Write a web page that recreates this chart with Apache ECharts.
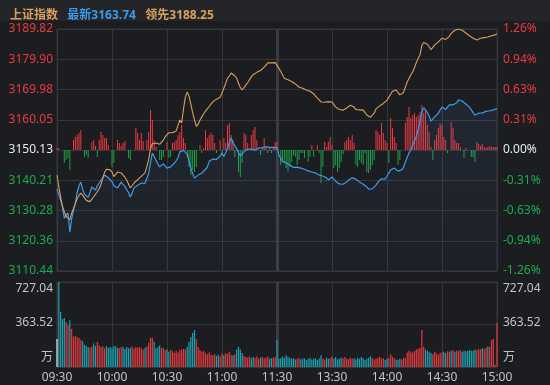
<!DOCTYPE html>
<html>
<head>
<meta charset="utf-8">
<script src="https://cdn.jsdelivr.net/npm/echarts@6/dist/echarts.min.js"></script>
<style>html,body{margin:0;padding:0;background:#1c1d21;}#c{width:550px;height:385px;}</style>
</head>
<body>
<div id="c"></div>
<script>
// ---------- data ----------
const indexName = '上证指数';
const preClose = 3150.13;
const priceRange = 39.69;
const volMax = 727.04;
const timeTicks = ['09:30','10:00','10:30','11:00','11:30','13:30','14:00','14:30','15:00'];
const priceTicks = ['3110.44','3120.36','3130.28','3140.21','3150.13','3160.05','3169.98','3179.90','3189.82'];
const pctTicks = ['-1.26%','-0.94%','-0.63%','-0.31%','0.00%','0.31%','0.63%','0.94%','1.26%'];
const volTicks = ['万','363.52','727.04'];

const price = [
3137.4,3135.5,3133.6,3131.5,3127.8,3128.6,3129.5,3123.2,3127.5,3130.4,
3132.6,3136.2,3138.4,3139.6,3137.2,3135.6,3135.0,3134.6,3136.3,3138.0,
3137.4,3137.0,3138.4,3139.0,3140.2,3141.0,3141.9,3141.6,3141.0,3140.9,
3139.8,3138.4,3137.9,3137.7,3138.6,3139.6,3139.0,3138.2,3137.7,3136.2,
3134.7,3136.0,3137.7,3138.0,3138.6,3139.0,3139.3,3139.4,3139.2,3139.6,
3142.4,3146.0,3149.1,3148.0,3146.8,3145.6,3144.6,3145.2,3145.6,3145.9,
3144.2,3143.6,3144.6,3145.2,3145.8,3146.6,3147.6,3149.5,3149.8,3150.0,
3150.1,3148.8,3146.6,3144.2,3142.4,3140.9,3141.4,3141.9,3142.2,3142.6,
3143.2,3143.8,3144.6,3146.4,3147.0,3147.2,3147.5,3147.0,3146.9,3148.2,
3149.1,3148.0,3148.6,3150.6,3152.6,3154.1,3152.4,3152.8,3150.6,3149.2,
3148.2,3147.8,3149.6,3150.2,3150.4,3150.8,3150.4,3150.0,3150.1,3150.5,
3150.8,3150.6,3150.9,3151.1,3151.2,3151.4,3151.0,3150.8,3151.0,3151.1,
3150.8,
3148.6,3147.4,3146.4,3146.0,3145.9,3145.6,3145.2,3144.8,3144.4,
3144.2,3144.5,3144.6,3144.2,3144.0,3143.8,3143.6,3143.3,3143.0,3142.9,
3142.8,3142.6,3142.4,3141.9,3141.3,3141.6,3141.9,3141.0,3140.3,3140.8,
3141.3,3140.6,3139.9,3139.4,3139.0,3138.6,3138.9,3139.2,3139.6,3140.3,
3140.9,3141.0,3140.9,3140.6,3140.0,3139.6,3139.2,3138.9,3138.6,3138.0,
3137.3,3137.0,3137.4,3137.7,3138.6,3139.6,3140.2,3140.7,3140.9,3140.6,
3140.3,3142.6,3143.6,3143.9,3144.2,3143.8,3143.2,3142.9,3143.6,3144.4,
3146.2,3147.7,3149.2,3150.2,3151.7,3153.2,3154.6,3156.8,3159.3,3162.6,
3164.0,3163.2,3162.4,3161.2,3159.6,3160.2,3161.0,3161.4,3162.2,3163.3,
3164.2,3163.6,3163.4,3164.2,3164.9,3164.8,3165.0,3164.9,3165.6,3166.6,
3167.2,3166.2,3165.6,3165.2,3164.7,3164.2,3163.3,3162.4,3161.6,3161.9,
3162.2,3162.4,3162.3,3162.6,3162.8,3162.7,3163.0,3163.2,3163.3,3163.5,
3163.74];

const lead = [
3141.9,3138.0,3134.6,3131.6,3129.8,3128.4,3127.8,3127.2,3129.4,3131.0,
3132.6,3134.2,3135.2,3136.0,3135.6,3134.5,3133.6,3133.1,3133.2,3133.7,
3134.8,3135.6,3136.2,3137.4,3138.8,3141.0,3142.9,3143.8,3144.2,3143.6,
3142.9,3141.4,3141.2,3142.9,3142.8,3142.6,3142.0,3141.2,3140.3,3139.0,
3137.7,3138.4,3139.3,3139.8,3140.4,3140.9,3141.5,3142.0,3142.6,3144.6,
3147.0,3150.6,3152.2,3152.8,3152.4,3151.8,3152.0,3152.4,3153.4,3154.4,
3155.0,3155.8,3156.0,3155.8,3156.0,3156.4,3156.7,3160.0,3159.0,3163.6,
3167.4,3169.2,3167.8,3165.2,3162.4,3160.0,3157.9,3158.6,3160.0,3161.0,
3162.0,3162.9,3163.6,3164.4,3165.2,3165.9,3166.4,3166.8,3167.0,3167.4,
3168.8,3170.4,3172.0,3173.7,3174.4,3175.4,3175.0,3174.4,3173.7,3172.0,
3170.6,3169.8,3170.6,3171.4,3172.2,3173.2,3174.1,3174.8,3175.2,3175.6,
3175.8,3176.2,3176.8,3177.3,3178.0,3178.7,3178.5,3178.7,3178.4,3178.8,
3178.7,3177.0,3175.9,3174.8,3173.7,3173.4,3173.2,3173.1,3172.6,3172.2,
3171.8,3171.4,3170.8,3170.6,3170.4,3170.0,3169.8,3169.6,3169.4,3169.2,
3168.6,3167.8,3167.2,3166.6,3165.9,3166.2,3165.8,3165.9,3166.0,3165.7,
3165.9,3165.0,3164.2,3163.8,3163.4,3163.2,3163.2,3163.6,3163.9,3164.4,
3164.8,3164.9,3164.2,3163.4,3163.2,3163.3,3163.1,3163.2,3162.4,3161.6,
3161.2,3160.9,3161.0,3162.2,3163.6,3164.2,3164.6,3164.9,3165.4,3166.0,
3166.5,3166.0,3168.4,3169.4,3169.6,3169.8,3169.4,3168.2,3168.6,3169.0,
3169.6,3172.4,3173.6,3174.8,3175.7,3177.2,3178.8,3180.2,3181.3,3184.4,
3185.4,3185.6,3184.8,3184.0,3183.0,3183.8,3184.6,3185.2,3185.6,3186.2,
3186.8,3186.8,3186.4,3186.3,3187.4,3188.4,3189.0,3189.4,3189.8,3189.8,
3189.6,3189.4,3189.0,3188.5,3188.0,3187.6,3187.2,3186.8,3186.4,3186.2,
3186.5,3186.8,3186.9,3187.0,3187.1,3187.2,3187.4,3187.6,3187.9,3187.9,
3188.25];

// buy/sell strength bars (red up, green down), arbitrary units
const strength = [
2,2,0,0,-13,-10,-8,-20,0,10,
13,15,17,20,0,-7,-5,-8,0,8,
10,4,-7,10,18,15,12,12,5,0,
-17,-13,0,10,7,4,7,9,0,-8,
-10,0,0,22,17,10,17,9,0,10,
18,40,30,10,3,0,-10,-10,-7,0,
8,-8,-7,7,8,10,15,18,25,12,
7,-7,-17,-25,-20,-22,-17,0,5,-3,
2,20,12,15,17,15,7,-3,0,10,
-5,12,7,25,27,15,10,-7,0,-22,
-27,-13,17,15,7,0,15,20,23,10,
0,-5,3,12,4,-3,2,-3,3,8,
8,0,-15,-10,-13,-18,-22,-17,-12,-5,
-7,-15,-10,-3,-3,-8,0,-12,-7,5,
-7,0,5,-3,-33,-17,8,3,8,13,
5,-18,-15,-22,-18,-12,-4,8,10,13,
10,15,7,-15,-17,-10,-13,-15,-3,-22,
-23,-20,-15,-10,20,18,15,27,17,10,
7,-13,32,22,13,7,-15,-10,0,0,
27,33,43,32,35,37,33,35,38,45,
37,40,25,18,3,-10,10,15,22,27,
25,13,10,-3,0,28,22,10,7,7,
3,0,-8,2,0,0,-7,-7,-12,8,
6,4,6,3,2,3,4,3,3,3,
3];

// volume, in 万
const volume = [
240,727,470,410,420,385,360,400,325,260,
265,255,250,230,220,190,180,172,165,175,
200,180,214,185,170,175,160,178,165,172,
160,180,175,165,160,168,170,155,172,160,
165,175,158,170,165,172,160,150,165,175,
205,248,250,215,160,170,185,160,165,145,
150,130,145,135,120,140,125,145,150,155,
150,171,214,257,290,316,240,170,145,130,
140,120,110,125,105,100,110,95,105,90,
115,100,120,110,130,105,100,110,150,171,
150,120,95,85,80,90,75,85,80,90,
70,80,85,75,80,90,70,75,80,85,
231,70,75,90,80,100,85,80,70,75,
65,70,80,65,70,75,60,70,80,65,
70,75,60,72,100,70,65,80,70,75,
90,70,85,65,70,80,75,85,70,65,
80,70,75,65,80,70,85,75,60,70,
80,90,75,65,70,80,85,70,75,60,
70,80,110,85,75,65,60,70,65,80,
75,125,140,130,125,135,150,155,165,316,
170,150,140,130,120,110,130,115,105,120,
125,130,120,135,130,140,145,130,140,135,
145,130,140,135,140,145,140,138,150,145,
155,150,160,155,165,175,170,230,240,20,
376];

// ---------- styles ----------
const FONT = '"Noto Sans", "Noto Sans CJK SC", sans-serif';
const BG = '#1c1d21', HEAD = '#242529', GRID = '#34363b', SESSION = '#3a3c41';
const RED = '#ec3a3f', GREEN = '#19ad4b', WHITE = '#e6eaf2', GRAY = '#c4c4c4';
const BLUE = '#3d9be9', TAN = '#d8a05e', TEAL = '#1ca3b1', VRED = '#e23a3e';
const step = priceRange / 4;

const priceData = price.map((p, i) => [i, +(p - preClose).toFixed(4)]);
const leadData = lead.map((p, i) => [i, +(p - preClose).toFixed(4)]);
const strengthData = strength.map((v, i) => [i, v]);
const volData = volume.map((v, i) => {
  let c = WHITE;
  if (i > 0) c = price[i] > price[i - 1] ? VRED : (price[i] < price[i - 1] ? TEAL : WHITE);
  return { value: [i, v], itemStyle: { color: c } };
});

function tickIdx(v) { return Math.round((Number(v) + priceRange) / step); }
function tickColor(v) { const k = tickIdx(v); return k < 4 ? GREEN : (k === 4 ? WHITE : RED); }

const sessionLine = {
  silent: true, z: 1, symbol: ['none', 'none'], label: { show: false },
  lineStyle: { color: SESSION, width: 3, type: 'solid' },
  data: [{ xAxis: 120 }]
};

const volLabel = {
  fontSize: 12, color: GRAY, margin: 4,
  formatter: v => { const k = Math.round(Number(v) / (volMax / 2)); return '{' + ['b', 'm', 't'][k] + '|' + volTicks[k] + '}'; },
  rich: {
    t: { fontSize: 12, color: GRAY, fontFamily: FONT, padding: [14, 0, 0, 0] },
    m: { fontSize: 12, color: GRAY, fontFamily: FONT, padding: [0, 0, 4, 0] },
    b: { fontSize: 12, color: GRAY, fontFamily: FONT, padding: [0, 0, 18, 0] }
  }
};

const chart = echarts.init(document.getElementById('c'));
chart.setOption({
  backgroundColor: BG,
  animation: false,
  textStyle: { fontFamily: FONT },
  graphic: [{ type: 'rect', silent: true, z: -10, shape: { x: 0, y: 0, width: 550, height: 21 }, style: { fill: HEAD } }],
  title: {
    left: 5, top: 2,
    text: '{a|' + indexName + '}  {b|最新' + price[price.length - 1].toFixed(2) + '}  {c|领先' + lead[lead.length - 1].toFixed(2) + '}',
    textStyle: {
      rich: {
        a: { color: TAN, fontSize: 12, fontFamily: FONT },
        b: { color: BLUE, fontSize: 12, fontFamily: FONT },
        c: { color: TAN, fontSize: 12, fontFamily: FONT }
      }
    }
  },
  grid: [
    { left: 57, right: 53, top: 29, height: 242, show: true, borderColor: GRID, borderWidth: 1, backgroundColor: 'transparent' },
    { left: 57, right: 53, top: 282, height: 85, show: true, borderColor: GRID, borderWidth: 1, backgroundColor: 'transparent' }
  ],
  xAxis: [
    { type: 'value', gridIndex: 0, min: 0, max: 240, interval: 30,
      axisLine: { show: false }, axisTick: { show: false }, axisLabel: { show: false },
      splitLine: { show: true, lineStyle: { color: GRID, width: 1 } } },
    { type: 'value', gridIndex: 1, min: 0, max: 240, interval: 30,
      axisLine: { show: false }, axisTick: { show: false },
      axisLabel: { show: true, color: GRAY, fontSize: 12, margin: 5, formatter: v => timeTicks[Math.round(v / 30)] },
      splitLine: { show: true, lineStyle: { color: GRID, width: 1 } } }
  ],
  yAxis: [
    { type: 'value', gridIndex: 0, position: 'left', min: -priceRange, max: priceRange, interval: step,
      axisLine: { show: false }, axisTick: { show: false },
      splitLine: { show: true, lineStyle: { color: GRID, width: 1 } },
      axisLabel: { fontSize: 12, margin: 4, color: tickColor, formatter: v => priceTicks[tickIdx(v)] } },
    { type: 'value', gridIndex: 0, position: 'right', min: -priceRange, max: priceRange, interval: step,
      axisLine: { show: false }, axisTick: { show: false }, splitLine: { show: false },
      axisLabel: { fontSize: 12, margin: 6, color: tickColor, formatter: v => pctTicks[tickIdx(v)] } },
    { type: 'value', gridIndex: 0, min: -121, max: 121, show: false, splitLine: { show: false } },
    { type: 'value', gridIndex: 1, position: 'left', min: 0, max: volMax, interval: volMax / 2,
      axisLine: { show: false }, axisTick: { show: false },
      splitLine: { show: true, lineStyle: { color: GRID, width: 1 } }, axisLabel: volLabel },
    { type: 'value', gridIndex: 1, position: 'right', min: 0, max: volMax, interval: volMax / 2,
      axisLine: { show: false }, axisTick: { show: false }, splitLine: { show: false },
      axisLabel: Object.assign({}, volLabel, { margin: 6 }) }
  ],
  series: [
    { type: 'bar', name: 'strength', xAxisIndex: 0, yAxisIndex: 2, data: strengthData, barWidth: 1, z: 3,
      itemStyle: { color: p => (p.value[1] >= 0 ? RED : '#1f9e46') } },
    { type: 'line', name: 'session', xAxisIndex: 0, yAxisIndex: 0, data: [], z: 1, markLine: sessionLine },
    { type: 'line', name: 'price', xAxisIndex: 0, yAxisIndex: 0, data: priceData, z: 4,
      showSymbol: false, symbol: 'none', lineStyle: { color: BLUE, width: 1.2 },
      areaStyle: { origin: 'start', color: new echarts.graphic.LinearGradient(0, 0, 0, 1, [
        { offset: 0, color: 'rgba(70,130,200,0.16)' }, { offset: 1, color: 'rgba(70,130,200,0.04)' }]) } },
    { type: 'line', name: 'lead', xAxisIndex: 0, yAxisIndex: 0, data: leadData, z: 5,
      showSymbol: false, symbol: 'none', lineStyle: { color: TAN, width: 1.1 } },
    { type: 'line', name: 'session2', xAxisIndex: 1, yAxisIndex: 3, data: [], z: 1, markLine: sessionLine },
    { type: 'bar', name: 'volume', xAxisIndex: 1, yAxisIndex: 3, data: volData, barWidth: 1.2, z: 3 }
  ]
});
</script>
</body>
</html>
